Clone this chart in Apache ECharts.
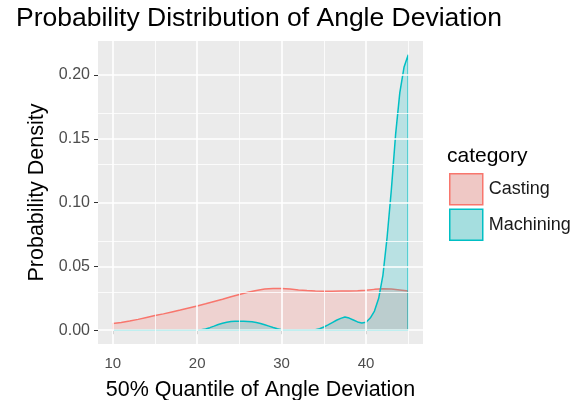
<!DOCTYPE html>
<html lang="en">
<head>
<meta charset="UTF-8">
<title>Probability Distribution of Angle Deviation</title>
<script src="https://cdn.jsdelivr.net/npm/echarts@6/dist/echarts.min.js"></script>
<style>
  html, body { margin: 0; padding: 0; background: #fff; }
  #main { width: 577px; height: 400px; }
</style>
</head>
<body>
<div id="main"></div>
<script>
// density estimates
var castingX = [10, 11, 12, 13, 14, 15, 16, 17, 18, 19, 20, 21, 22, 23, 24, 25, 26, 27,
  28, 29, 30, 31, 32, 33, 34, 35, 36, 37, 38, 39, 40, 41, 42, 43, 44, 45];
var castingY = [0.0052, 0.0060, 0.0072, 0.0085, 0.0100, 0.0115, 0.0128, 0.0143, 0.0158,
  0.0174, 0.0190, 0.0207, 0.0225, 0.0243, 0.0262, 0.0280, 0.0297, 0.0312, 0.0323, 0.0327,
  0.0326, 0.0322, 0.0316, 0.0311, 0.0308, 0.0306, 0.0306, 0.0307, 0.0308, 0.0310, 0.0314,
  0.0320, 0.0324, 0.0322, 0.0316, 0.0308];

var machiningX = [10, 20, 20.5, 21, 21.5, 22, 22.5, 23, 23.5, 24, 24.5, 25, 25.5, 26, 26.5,
  27, 27.5, 28, 28.5, 29, 29.5, 30, 30.5, 31, 32, 33, 33.5, 34, 34.5, 35, 35.5, 36, 36.5,
  37, 37.5, 38, 38.5, 39, 39.5, 40, 40.5, 41, 41.5, 42, 42.5, 43, 43.5, 44, 44.5, 45];
var machiningY = [0, 0, 0.0003, 0.0010, 0.0020, 0.0032, 0.0045, 0.0055, 0.0063, 0.0068,
  0.0070, 0.0070, 0.0070, 0.0069, 0.0066, 0.0061, 0.0053, 0.0043, 0.0032, 0.0021, 0.0011,
  0.0004, 0.0002, 0.0002, 0.0002, 0.0002, 0.0002, 0.0004, 0.0012, 0.0025, 0.0042, 0.0060,
  0.0078, 0.0093, 0.0104, 0.0095, 0.0080, 0.0065, 0.0057, 0.0062, 0.0095, 0.0150, 0.0250,
  0.0430, 0.0730, 0.1100, 0.1530, 0.1860, 0.2060, 0.2158];

var xTicks = [10, 20, 30, 40];
var xMinor = [15, 25, 35, 45];
var yTicks = [0, 0.05, 0.10, 0.15, 0.20];
var yMinor = [0.025, 0.075, 0.125, 0.175, 0.225];

var names = ['Casting', 'Machining'];
var colors = ['#F8766D', '#00BFC4'];
var fills = ['rgba(248,118,109,0.3)', 'rgba(0,191,196,0.3)'];
var keyFills = ['#EFC8C5', '#A5DEDF'];

// closed polygon like geom_density: baseline -> curve -> baseline
function polygon(xs, ys) {
  var pts = [[xs[0], 0]];
  for (var i = 0; i < xs.length; i++) pts.push([xs[i], ys[i]]);
  pts.push([xs[xs.length - 1], 0]);
  pts.push([xs[0], 0]);
  return pts;
}

function gridLines(vals, key, width) {
  return vals.map(function (v) {
    var d = {};
    d[key] = v;
    d.lineStyle = { color: '#ffffff', width: width, type: 'solid' };
    return d;
  });
}

var chart = echarts.init(document.getElementById('main'));
var font = 'Liberation Sans, Arial, sans-serif';

var option = {
  animation: false,
  textStyle: { fontFamily: font },
  title: [
    {
      text: 'Probability Distribution of Angle Deviation',
      left: 16, top: 5, padding: 0,
      textStyle: { fontSize: 26.5, fontWeight: 'normal', color: '#000', fontFamily: font }
    },
    {
      text: 'category',
      left: 447, top: 146, padding: 0,
      textStyle: { fontSize: 21, fontWeight: 'normal', color: '#000', fontFamily: font }
    }
  ],
  legend: {
    orient: 'vertical',
    left: 449, top: 173,
    padding: 0,
    itemWidth: 33, itemHeight: 31, itemGap: 3,
    icon: 'rect',
    textStyle: { fontSize: 18, color: '#1a1a1a', fontFamily: font, padding: [0, 0, 0, 1] },
    data: names.map(function (n, i) {
      return { name: n, itemStyle: { color: keyFills[i], borderColor: colors[i], borderWidth: 1.5 } };
    })
  },
  grid: {
    left: 98, right: 154, top: 41, bottom: 56,
    outerBoundsMode: 'none',
    containLabel: false,
    show: true, backgroundColor: '#EBEBEB', borderWidth: 0
  },
  xAxis: {
    type: 'value',
    min: 8.25, max: 46.75,
    axisLine: { show: false },
    splitLine: { show: false },
    axisTick: { show: true, customValues: xTicks, length: 4, lineStyle: { color: '#333', width: 1 } },
    axisLabel: {
      customValues: xTicks, margin: 12,
      fontSize: 15, color: '#4D4D4D', fontFamily: font
    },
    name: '50% Quantile of Angle Deviation',
    nameLocation: 'middle', nameGap: 35,
    nameTextStyle: { fontSize: 21.5, color: '#000', fontFamily: font }
  },
  yAxis: {
    type: 'value',
    min: -0.0108, max: 0.2266,
    axisLine: { show: false },
    splitLine: { show: false },
    axisTick: { show: true, customValues: yTicks, length: 4, lineStyle: { color: '#333', width: 1 } },
    axisLabel: {
      customValues: yTicks, margin: 8,
      fontSize: 16, color: '#4D4D4D', fontFamily: font,
      formatter: function (v) { return v.toFixed(2); }
    },
    name: 'Probability Density',
    nameLocation: 'middle', nameGap: 49,
    nameTextStyle: { fontSize: 21.5, color: '#000', fontFamily: font }
  },
  series: [
    {
      // panel grid lines
      type: 'line', data: [], z: 1, silent: true,
      markLine: {
        silent: true, symbol: ['none', 'none'], label: { show: false },
        animation: false,
        data: [].concat(
          gridLines(xMinor, 'xAxis', 0.8),
          gridLines(yMinor, 'yAxis', 0.8),
          gridLines(xTicks, 'xAxis', 1.6),
          gridLines(yTicks, 'yAxis', 1.6)
        )
      }
    },
    {
      name: names[0], type: 'line', z: 2,
      data: polygon(castingX, castingY),
      showSymbol: false, symbol: 'none',
      lineStyle: { color: colors[0], width: 1.5 },
      itemStyle: { color: colors[0] },
      areaStyle: { color: fills[0], origin: 0 }
    },
    {
      name: names[1], type: 'line', z: 3,
      data: polygon(machiningX, machiningY),
      showSymbol: false, symbol: 'none',
      lineStyle: { color: colors[1], width: 1.5 },
      itemStyle: { color: colors[1] },
      areaStyle: { color: fills[1], origin: 0 }
    }
  ]
};

chart.setOption(option);
</script>
</body>
</html>
